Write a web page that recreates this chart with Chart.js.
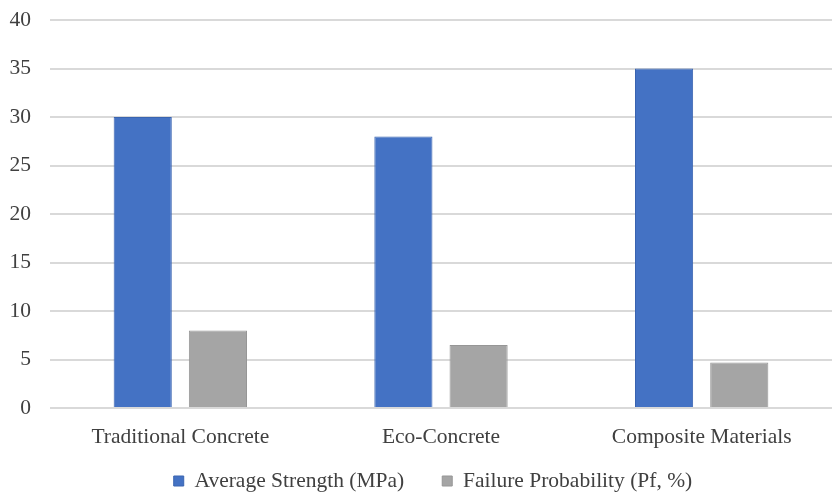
<!DOCTYPE html>
<html>
<head>
<meta charset="utf-8">
<script src="https://cdn.jsdelivr.net/npm/chart.js@4/dist/chart.umd.min.js"></script>
<style>
  html, body { margin: 0; padding: 0; background: #fff; }
  #wrap { width: 832px; height: 492px; }
</style>
</head>
<body>
<div id="wrap"><canvas id="c" width="832" height="492"></canvas></div>
<script>
// Material categories and the two measured series
const categories = ['Traditional Concrete', 'Eco-Concrete', 'Composite Materials'];
const averageStrength = [30, 28, 35];
const failureProbability = [8, 6.5, 4.7];
const seriesNames = ['Average Strength (MPa)', 'Failure Probability (Pf, %)'];
const yTicks = [0, 5, 10, 15, 20, 25, 30, 35, 40];

const font = { family: "'Liberation Serif', 'Times New Roman', serif", size: 21.5 };
const textColor = '#404040';

// Keeps the legend row compact in the layout, then places it
// below the category labels, centred under the plot.
const legendPlacement = {
  id: 'legendPlacement',
  beforeLayout(chart) {
    const lg = chart.legend;
    if (lg && !lg._compactFit) {
      const fit = lg.fit.bind(lg);
      lg.fit = function () { fit(); this.height = 44; };
      lg._compactFit = true;
    }
  },
  afterLayout(chart) {
    const lg = chart.legend;
    const pad = lg.options.labels.padding;
    const itemH = Math.max(lg.options.labels.boxHeight, font.size);
    lg.top = 481 - pad - itemH / 2;
    lg.bottom = chart.height;
    lg.height = lg.bottom - lg.top;
    const dx = 433 - (lg.left + lg.right) / 2;
    lg.left += dx; lg.right += dx;
  }
};

new Chart(document.getElementById('c'), {
  type: 'bar',
  data: {
    labels: categories,
    datasets: [
      {
        label: seriesNames[0],
        data: averageStrength,
        backgroundColor: '#4472C4',
        borderColor: '#3A64B0',
        borderWidth: 1,
        borderSkipped: 'bottom'
      },
      {
        label: seriesNames[1],
        data: failureProbability,
        backgroundColor: '#A5A5A5',
        borderColor: '#969696',
        borderWidth: 1,
        borderSkipped: 'bottom'
      }
    ]
  },
  plugins: [legendPlacement],
  options: {
    responsive: false,
    animation: false,
    devicePixelRatio: 1,
    layout: { padding: { top: 20, right: 0, bottom: 0, left: 0 } },
    datasets: { bar: { categoryPercentage: 0.577, barPercentage: 0.773 } },
    plugins: {
      tooltip: { enabled: false },
      legend: {
        position: 'bottom',
        labels: {
          font: font,
          color: textColor,
          boxWidth: 10,
          boxHeight: 10,
          padding: 38,
          useBorderRadius: false
        }
      }
    },
    scales: {
      x: {
        afterFit: (axis) => { axis.height = 40; },
        grid: { display: false, drawTicks: false },
        border: { display: false },
        ticks: { font: font, color: textColor, padding: 16 }
      },
      y: {
        min: 0,
        max: 40,
        afterBuildTicks: (axis) => { axis.ticks = yTicks.map(v => ({ value: v })); },
        afterFit: (axis) => {
          axis.width = 50;
          axis.paddingTop = 0;
          axis.paddingBottom = 0;
        },
        grid: { color: '#D9D9D9', lineWidth: 2, drawTicks: false },
        border: { display: false },
        ticks: { font: font, color: textColor, padding: 19 }
      }
    }
  }
});
</script>
</body>
</html>
